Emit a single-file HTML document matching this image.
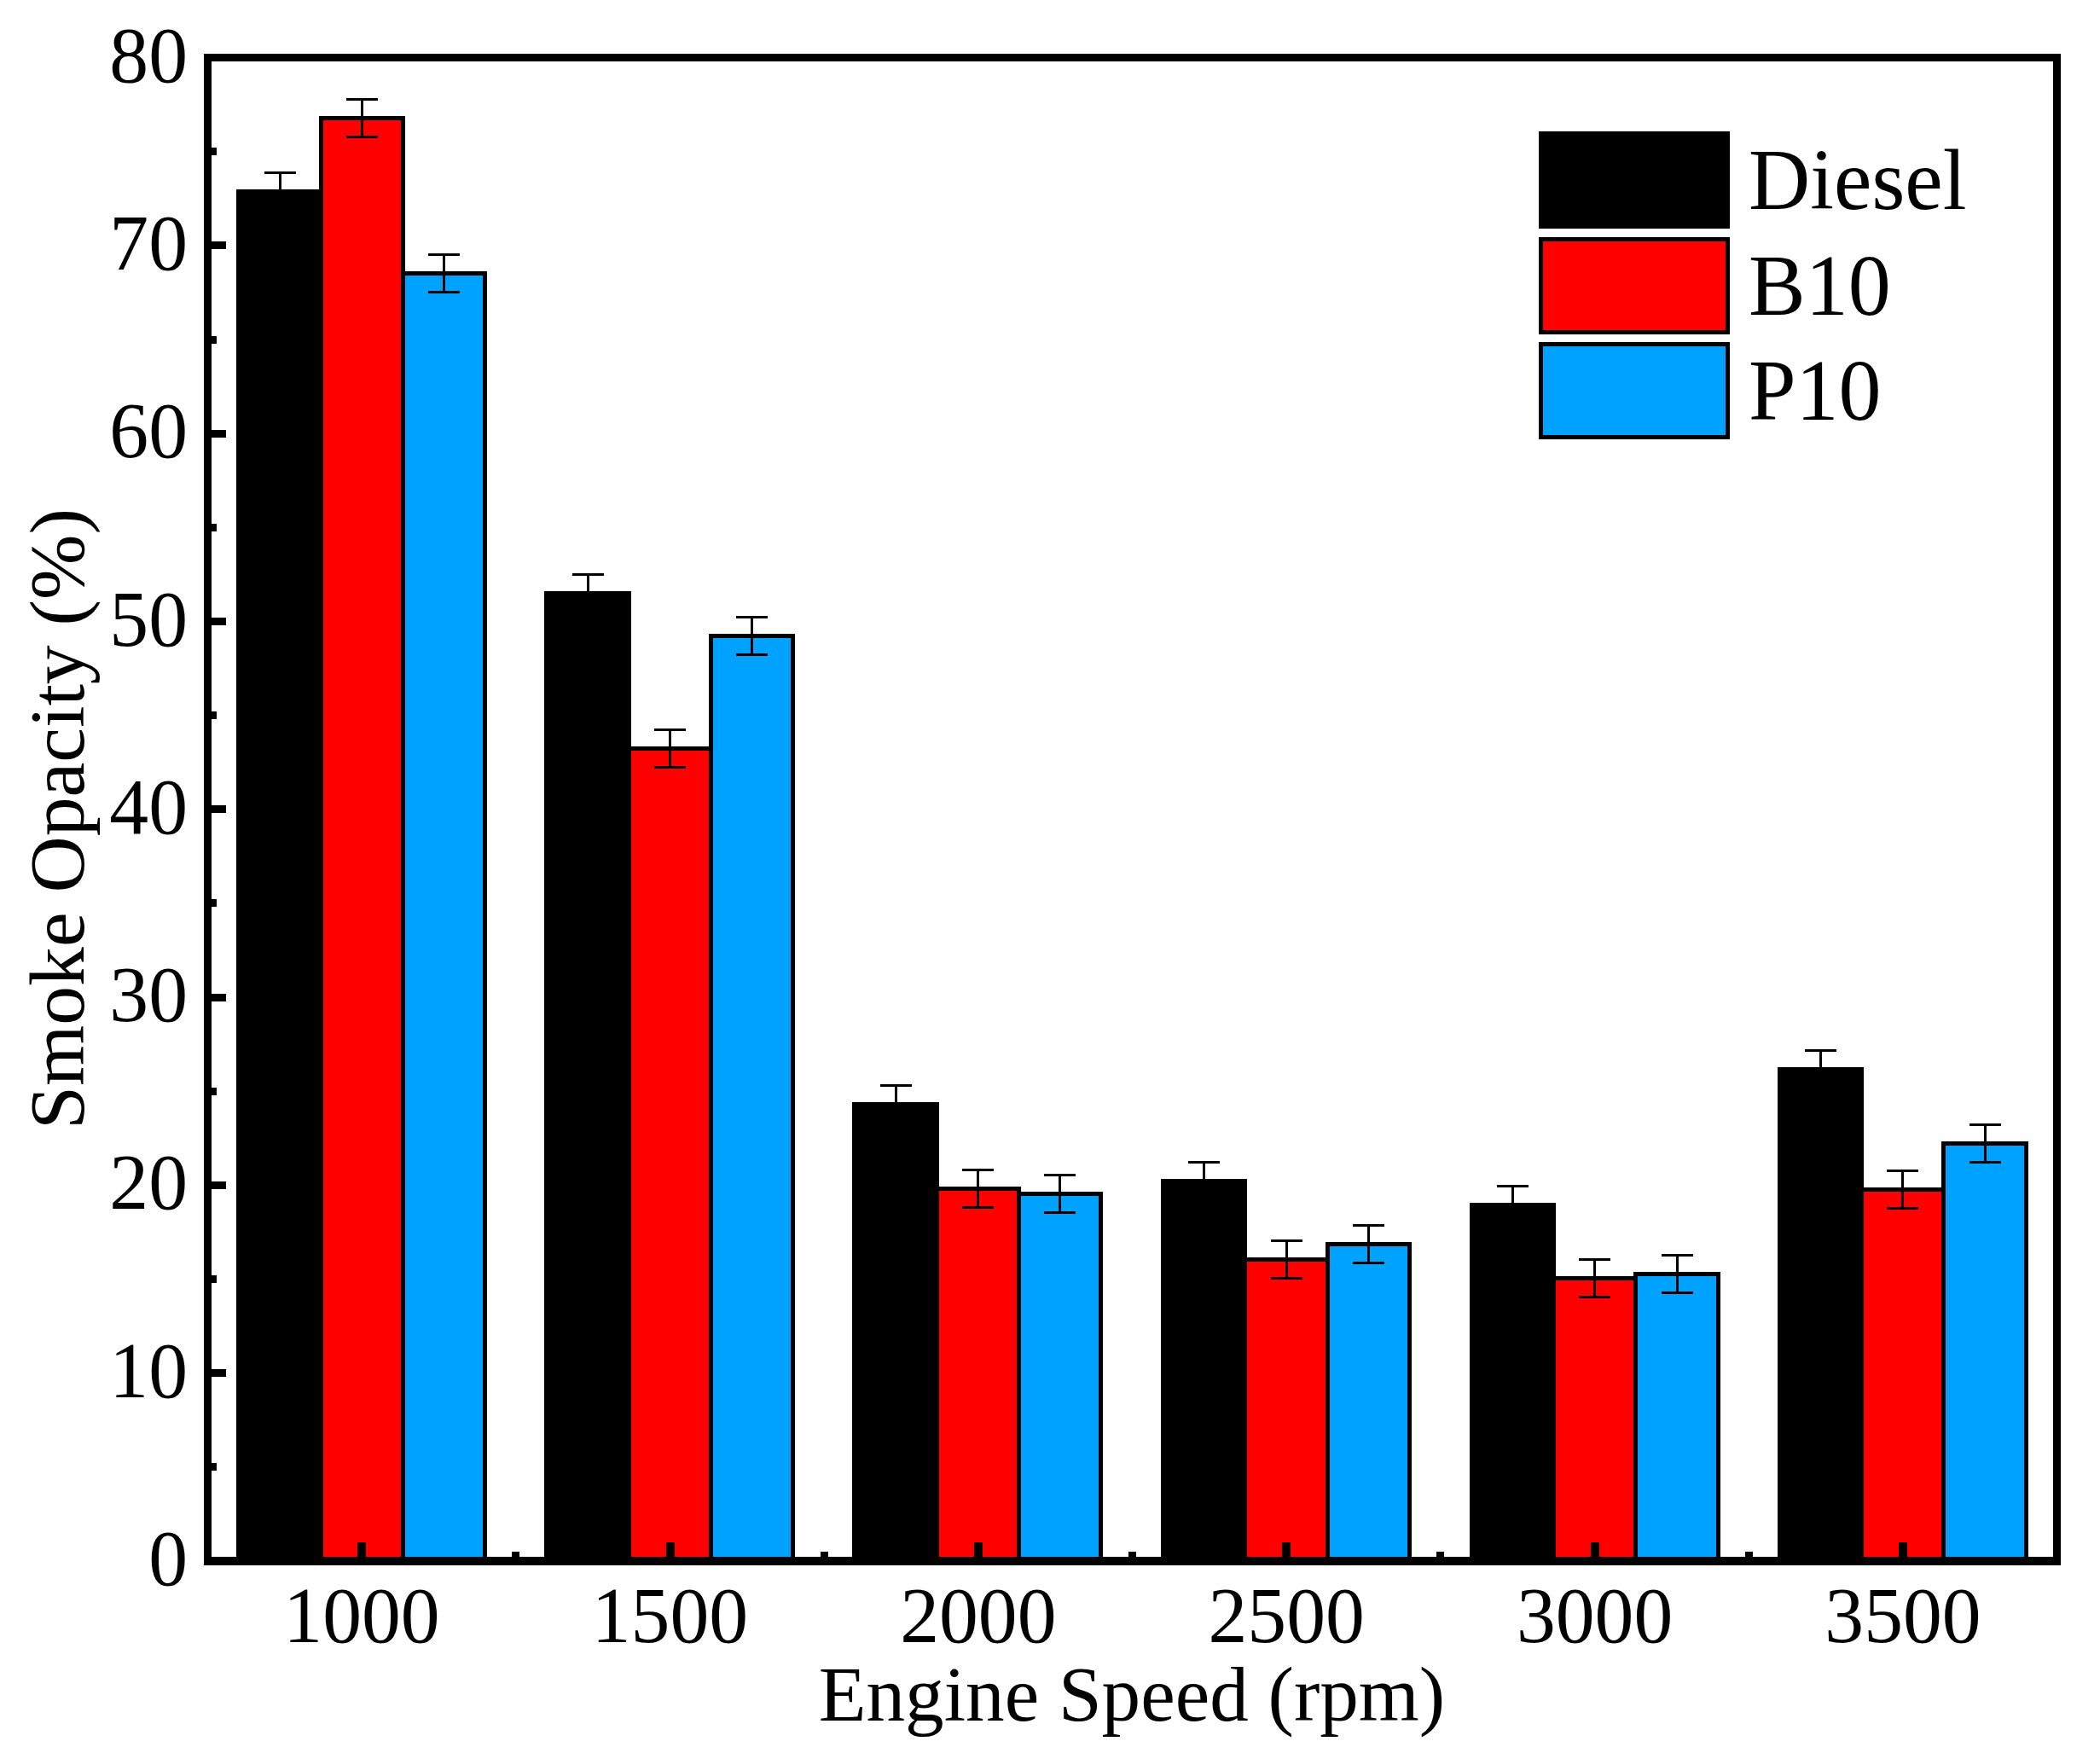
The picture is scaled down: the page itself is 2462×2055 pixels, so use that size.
<!DOCTYPE html>
<html lang="en"><head><meta charset="utf-8"><title>Smoke Opacity vs Engine Speed</title>
<style>html,body{margin:0;padding:0;background:#fff}svg{display:block}text{font-family:"Liberation Serif","Times New Roman",serif;fill:#000}</style></head><body>
<svg width="2462" height="2055" viewBox="0 0 2462 2055">
<rect x="0" y="0" width="2462" height="2055" fill="#fff"/>
<g shape-rendering="crispEdges" stroke="#000" stroke-width="5">
<rect x="279.5" y="224.5" width="97.0" height="1605.5" fill="#000000"/>
<rect x="376.5" y="138.5" width="96.0" height="1691.5" fill="#ff0000"/>
<rect x="472.5" y="320.5" width="96.0" height="1509.5" fill="#00a2ff"/>
<rect x="640.5" y="695.5" width="97.0" height="1134.5" fill="#000000"/>
<rect x="737.5" y="877.5" width="96.0" height="952.5" fill="#ff0000"/>
<rect x="833.5" y="745.5" width="96.0" height="1084.5" fill="#00a2ff"/>
<rect x="1001.5" y="1294.5" width="97.0" height="535.5" fill="#000000"/>
<rect x="1098.5" y="1393.5" width="96.0" height="436.5" fill="#ff0000"/>
<rect x="1194.5" y="1399.5" width="96.0" height="430.5" fill="#00a2ff"/>
<rect x="1363.5" y="1384.5" width="96.0" height="445.5" fill="#000000"/>
<rect x="1459.5" y="1476.5" width="97.0" height="353.5" fill="#ff0000"/>
<rect x="1556.5" y="1458.5" width="96.0" height="371.5" fill="#00a2ff"/>
<rect x="1725.5" y="1412.5" width="96.0" height="417.5" fill="#000000"/>
<rect x="1821.5" y="1498.5" width="96.0" height="331.5" fill="#ff0000"/>
<rect x="1917.5" y="1493.5" width="97.0" height="336.5" fill="#00a2ff"/>
<rect x="2086.5" y="1253.5" width="96.0" height="576.5" fill="#000000"/>
<rect x="2182.5" y="1394.5" width="96.0" height="435.5" fill="#ff0000"/>
<rect x="2278.5" y="1340.5" width="97.0" height="489.5" fill="#00a2ff"/>
</g>
<g shape-rendering="crispEdges" stroke="#000" stroke-width="3" fill="none">
<path d="M310.00 202.50H347.00M310.00 246.50H347.00M328.50 202.50V246.50"/>
<path d="M406.00 116.50H443.00M406.00 160.50H443.00M424.50 116.50V160.50"/>
<path d="M502.00 298.50H539.00M502.00 342.50H539.00M520.50 298.50V342.50"/>
<path d="M671.00 673.50H708.00M671.00 717.50H708.00M689.50 673.50V717.50"/>
<path d="M767.00 855.50H804.00M767.00 899.50H804.00M785.50 855.50V899.50"/>
<path d="M863.00 723.50H900.00M863.00 767.50H900.00M881.50 723.50V767.50"/>
<path d="M1032.00 1272.50H1069.00M1032.00 1316.50H1069.00M1050.50 1272.50V1316.50"/>
<path d="M1128.00 1371.50H1165.00M1128.00 1415.50H1165.00M1146.50 1371.50V1415.50"/>
<path d="M1224.00 1377.50H1261.00M1224.00 1421.50H1261.00M1242.50 1377.50V1421.50"/>
<path d="M1393.00 1362.50H1430.00M1393.00 1406.50H1430.00M1411.50 1362.50V1406.50"/>
<path d="M1490.00 1454.50H1527.00M1490.00 1498.50H1527.00M1508.50 1454.50V1498.50"/>
<path d="M1586.00 1436.50H1623.00M1586.00 1480.50H1623.00M1604.50 1436.50V1480.50"/>
<path d="M1755.00 1390.50H1792.00M1755.00 1434.50H1792.00M1773.50 1390.50V1434.50"/>
<path d="M1851.00 1476.50H1888.00M1851.00 1520.50H1888.00M1869.50 1476.50V1520.50"/>
<path d="M1948.00 1471.50H1985.00M1948.00 1515.50H1985.00M1966.50 1471.50V1515.50"/>
<path d="M2116.00 1231.50H2153.00M2116.00 1275.50H2153.00M2134.50 1231.50V1275.50"/>
<path d="M2212.00 1372.50H2249.00M2212.00 1416.50H2249.00M2230.50 1372.50V1416.50"/>
<path d="M2309.00 1318.50H2346.00M2309.00 1362.50H2346.00M2327.50 1318.50V1362.50"/>
</g>
<g shape-rendering="crispEdges" fill="#000">
<rect x="239" y="63" width="2177" height="9"/>
<rect x="239" y="1825" width="2177" height="10"/>
<rect x="239" y="63" width="9" height="1772"/>
<rect x="2407" y="63" width="9" height="1772"/>
<rect x="248" y="1826" width="17" height="9"/>
<rect x="248" y="1715" width="6" height="9"/>
<rect x="248" y="1605" width="17" height="9"/>
<rect x="248" y="1495" width="6" height="9"/>
<rect x="248" y="1385" width="17" height="9"/>
<rect x="248" y="1275" width="6" height="9"/>
<rect x="248" y="1165" width="17" height="9"/>
<rect x="248" y="1054" width="6" height="9"/>
<rect x="248" y="944" width="17" height="9"/>
<rect x="248" y="834" width="6" height="9"/>
<rect x="248" y="724" width="17" height="9"/>
<rect x="248" y="614" width="6" height="9"/>
<rect x="248" y="504" width="17" height="9"/>
<rect x="248" y="394" width="6" height="9"/>
<rect x="248" y="283" width="17" height="9"/>
<rect x="248" y="173" width="6" height="9"/>
<rect x="248" y="63" width="17" height="9"/>
<rect x="419" y="1808" width="10" height="17"/>
<rect x="600" y="1819" width="9" height="6"/>
<rect x="781" y="1808" width="10" height="17"/>
<rect x="962" y="1819" width="9" height="6"/>
<rect x="1142" y="1808" width="10" height="17"/>
<rect x="1323" y="1819" width="9" height="6"/>
<rect x="1503" y="1808" width="10" height="17"/>
<rect x="1684" y="1819" width="9" height="6"/>
<rect x="1865" y="1808" width="10" height="17"/>
<rect x="2046" y="1819" width="9" height="6"/>
<rect x="2226" y="1808" width="10" height="17"/>
</g>
<g font-size="91.67px">
<text transform="translate(220 1858.0) scale(1 1.022)" text-anchor="end">0</text>
<text transform="translate(220 1637.7) scale(1 1.022)" text-anchor="end">10</text>
<text transform="translate(220 1417.4) scale(1 1.022)" text-anchor="end">20</text>
<text transform="translate(220 1197.1) scale(1 1.022)" text-anchor="end">30</text>
<text transform="translate(220 976.8) scale(1 1.022)" text-anchor="end">40</text>
<text transform="translate(220 756.5) scale(1 1.022)" text-anchor="end">50</text>
<text transform="translate(220 536.2) scale(1 1.022)" text-anchor="end">60</text>
<text transform="translate(220 315.9) scale(1 1.022)" text-anchor="end">70</text>
<text transform="translate(220 95.6) scale(1 1.022)" text-anchor="end">80</text>
<text transform="translate(424.0 1925) scale(1 1.022)" text-anchor="middle">1000</text>
<text transform="translate(785.4 1925) scale(1 1.022)" text-anchor="middle">1500</text>
<text transform="translate(1146.8 1925) scale(1 1.022)" text-anchor="middle">2000</text>
<text transform="translate(1508.2 1925) scale(1 1.022)" text-anchor="middle">2500</text>
<text transform="translate(1869.6 1925) scale(1 1.022)" text-anchor="middle">3000</text>
<text transform="translate(2231.0 1925) scale(1 1.022)" text-anchor="middle">3500</text>
<text x="1327" y="2017" text-anchor="middle" font-size="91.2px">Engine Speed (rpm)</text>
<text transform="translate(98 960) rotate(-90)" text-anchor="middle">Smoke Opacity (%)</text>
</g>
<g shape-rendering="crispEdges" stroke="#000" stroke-width="5">
<rect x="1806.5" y="156.5" width="219" height="109" fill="#000000"/>
<rect x="1806.5" y="280.5" width="219" height="109" fill="#ff0000"/>
<rect x="1806.5" y="403.5" width="219" height="109" fill="#00a2ff"/>
</g>
<g font-size="100px">
<text transform="translate(2050 244.5) scale(1 1.02)">Diesel</text>
<text transform="translate(2050 368.5) scale(1 1.02)">B10</text>
<text transform="translate(2050 491.5) scale(1 1.02)">P10</text>
</g>
</svg></body></html>
